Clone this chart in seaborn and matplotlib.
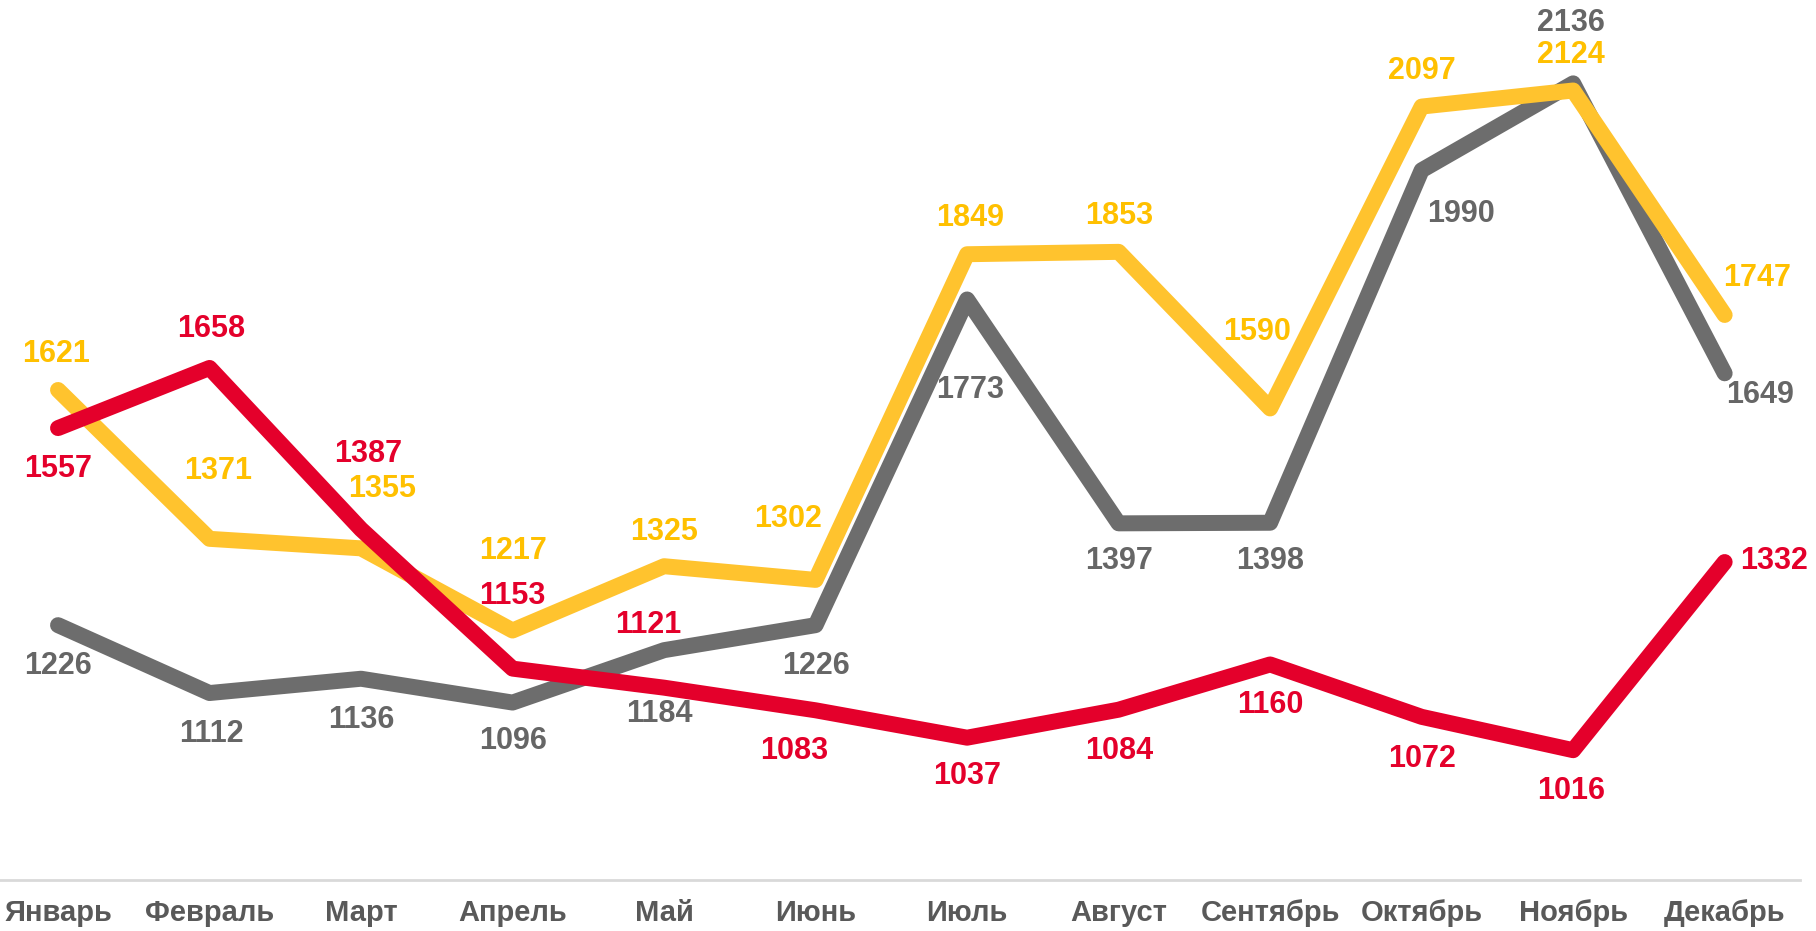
import numpy as np
import pandas as pd
import matplotlib
matplotlib.use("Agg")
import matplotlib.pyplot as plt
from matplotlib import font_manager
import seaborn as sns

months = ["Январь", "Февраль", "Март", "Апрель", "Май", "Июнь", "Июль",
          "Август", "Сентябрь", "Октябрь", "Ноябрь", "Декабрь"]
gray_vals = [1226, 1112, 1136, 1096, 1184, 1226, 1773, 1397, 1398, 1990, 2136, 1649]
yellow_vals = [1621, 1371, 1355, 1217, 1325, 1302, 1849, 1853, 1590, 2097, 2124, 1747]
red_vals = [1557, 1658, 1387, 1153, 1121, 1083, 1037, 1084, 1160, 1072, 1016, 1332]
series_names = ["Серия 1", "Серия 2", "Серия 3"]

colors = {"Серия 1": "#6d6d6d", "Серия 2": "#ffc32e", "Серия 3": "#e4002b"}
text_colors = {"Серия 1": "#666666", "Серия 2": "#ffc000", "Серия 3": "#e4002b"}

# label offsets in pixels (layout only)
offsets = {
    "Серия 1": [(0, -41), (2, -41), (0, -41), (0, -38), (-5, -64), (0, -41),
                (3, -91), (0, -38), (0, -38), (39, -44), (-2, 60), (35, -22)],
    "Серия 2": [(-2, 36), (9, 68), (21, 59), (0, 80), (0, 34), (-28, 61),
                (3, 36), (1, 36), (-13, 76), (0, 36), (-2, 35), (32, 37)],
    "Серия 3": [(0, -41), (2, 39), (7, 75), (0, 73), (-16, 63), (-21, -41),
                (0, -38), (1, -41), (0, -41), (0, -42), (-2, -41), (49, 1)],
}

all_vals = [gray_vals, yellow_vals, red_vals]
df = pd.DataFrame({
    "month": np.tile(np.arange(len(months)), 3),
    "value": np.concatenate(all_vals),
    "series": np.repeat(series_names, len(months)),
})

sns.set_theme(style="white")
installed = {f.name for f in font_manager.fontManager.ttflist}
if "Liberation Sans Narrow" in installed:
    fam = ["Liberation Sans Narrow", "DejaVu Sans"]
    lbl_size, tick_size = 25, 24
else:
    fam = ["Liberation Sans", "DejaVu Sans"]
    lbl_size, tick_size = 22, 21
plt.rcParams["font.family"] = fam

fig = plt.figure(figsize=(18.16, 9.31), dpi=100)
ax = fig.add_axes([0.0, 0.0548, 0.991, 0.9452])

sns.lineplot(data=df, x="month", y="value", hue="series", palette=colors,
             hue_order=series_names, linewidth=11.5, ax=ax, legend=False,
             sort=False)
for line in ax.get_lines():
    line.set_solid_capstyle("round")
    line.set_solid_joinstyle("round")

for name, vals in zip(series_names, all_vals):
    for i, v in enumerate(vals):
        dx, dy = offsets[name][i]
        ax.annotate(str(v), (i, v), xytext=(dx, dy), textcoords="offset pixels",
                    ha="center", va="center", fontsize=lbl_size, fontweight="bold",
                    color=text_colors[name])

ax.set_xlim(-0.383, 11.495)
ax.set_ylim(798, 2276)
ax.set_xticks(range(len(months)))
ax.set_xticklabels(months, fontsize=tick_size, fontweight="bold", color="#595959")
ax.tick_params(axis="x", length=0, pad=14)
ax.set_yticks([])
ax.set_xlabel("")
ax.set_ylabel("")
for s in ["top", "left", "right"]:
    ax.spines[s].set_visible(False)
ax.spines["bottom"].set_color("#d9d9d9")
ax.spines["bottom"].set_linewidth(2)

fig.savefig("out.png", dpi=100)
